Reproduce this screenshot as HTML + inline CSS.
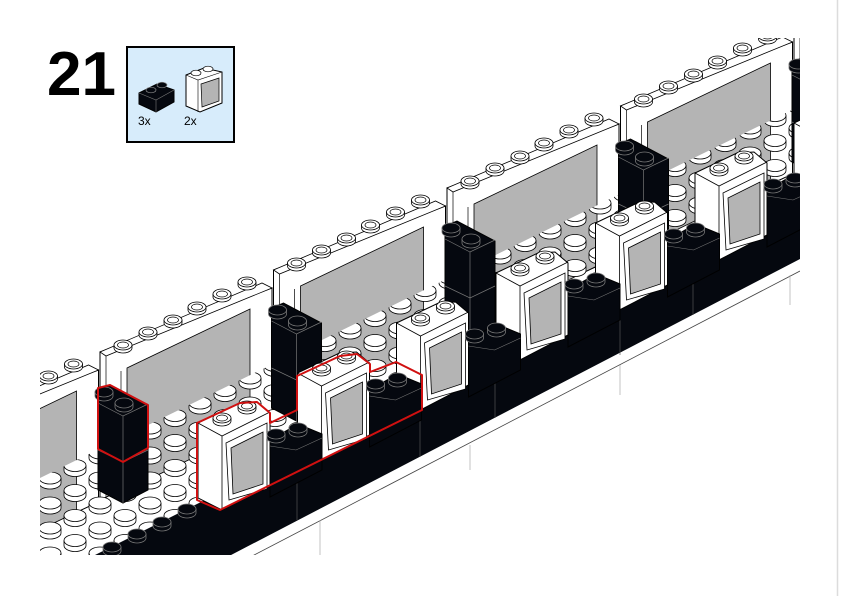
<!DOCTYPE html>
<html><head><meta charset="utf-8"><style>
html,body{margin:0;padding:0;background:#fff;width:842px;height:596px;overflow:hidden;}
body{position:relative;font-family:"Liberation Sans",sans-serif;}
svg{display:block;}
</style></head><body>
<svg width="842" height="596" viewBox="0 0 842 596" xmlns="http://www.w3.org/2000/svg" style="position:absolute;left:0;top:0">
<defs>
  <clipPath id="cp"><rect x="40" y="38" width="760" height="517"/></clipPath>
  <g id="st">
    <path d="M-9,0 L-9,3 A9,5 0 0 0 9,3 L9,0" fill="#fff" stroke="#000" stroke-width="0.8"/>
    <ellipse cx="0" cy="0" rx="9" ry="5" fill="#fff" stroke="#000" stroke-width="0.8"/>
    <ellipse cx="0" cy="0" rx="5.5" ry="3" fill="#fff" stroke="#000" stroke-width="0.7"/>
  </g>
  <g id="fst">
    <path d="M-11,0 L-11,5 A11,6 0 0 0 11,5 L11,0" fill="#fff" stroke="#000" stroke-width="0.8"/>
    <ellipse cx="0" cy="0" rx="11" ry="6" fill="#fff" stroke="#000" stroke-width="0.8"/>
  </g>
  <g id="dst">
    <path d="M-9,0 L-9,4 A9,5 0 0 0 9,4 L9,0" fill="#05080f" stroke="#777" stroke-width="0.8"/>
    <ellipse cx="0" cy="0" rx="9" ry="5" fill="#05080f" stroke="#777" stroke-width="0.8"/>
  </g>
  <pattern id="floor" patternUnits="userSpaceOnUse" width="50" height="25" x="0" y="3">
    <use href="#fst" x="25" y="-12.5"/>
    <use href="#fst" x="0" y="0"/>
    <use href="#fst" x="50" y="0"/>
    <use href="#fst" x="25" y="12.5"/>
    <use href="#fst" x="0" y="25"/>
    <use href="#fst" x="50" y="25"/>
  </pattern>
  <g id="panel">
    <polygon points="100,352 272,288 272,420 100,500" fill="#fff" stroke="#000" stroke-width="1"/>
    <polygon points="100,352 262,283 272,288 106,356" fill="#fff" stroke="#000" stroke-width="0.8"/>
    <polygon points="127,368 250,309 250,430 127,490" fill="#b4b4b4" stroke="#000" stroke-width="0.8"/>
    <line x1="121" y1="371" x2="121" y2="495" stroke="#000" stroke-width="0.7"/>
    <line x1="106" y1="356" x2="106" y2="500" stroke="#000" stroke-width="0.7"/>
    <use href="#st" x="123" y="345"/>
    <use href="#st" x="148" y="332"/>
    <use href="#st" x="173" y="320"/>
    <use href="#st" x="197" y="307"/>
    <use href="#st" x="222" y="294"/>
    <use href="#st" x="247" y="282"/>
  </g>
  <g id="stack">
    <polygon points="98,390 110,385 148,405 148,490 123,503 98,490" fill="#05080f" stroke="#000"/>
    <polyline points="98,403 123,416 148,404" fill="none" stroke="#777" stroke-width="0.7"/>
    <line x1="123" y1="416" x2="123" y2="503" stroke="#777" stroke-width="0.7"/>
    <polyline points="98,450 123,462 148,450" fill="none" stroke="#777" stroke-width="0.7"/>
    <use href="#dst" x="104" y="392"/>
    <use href="#dst" x="124" y="403"/>
  </g>
  <g id="win">
    <polygon points="198,423 240,403 257,402 270,413 270,485 222,510 198,498" fill="#fff" stroke="#000" stroke-width="1"/>
    <polyline points="198,423 222,436 270,412" fill="none" stroke="#000" stroke-width="0.8"/>
    <line x1="222" y1="436" x2="222" y2="510" stroke="#000" stroke-width="0.8"/>
    <polygon points="226,443 267,423 267,489 229,500" fill="#fff" stroke="#000" stroke-width="0.8"/>
    <polygon points="231,448 263,432 263,484 233,494" fill="#b4b4b4" stroke="#000" stroke-width="0.8"/>
    <use href="#st" x="222" y="418"/>
    <use href="#st" x="247" y="406"/>
  </g>
  <g id="blk">
    <polygon points="270,440 298,424 322,434 322,470 270,497" fill="#05080f" stroke="#000"/>
    <polyline points="270,446 296,450 322,438" fill="none" stroke="#777" stroke-width="0.6"/>
    <use href="#dst" x="276" y="434"/>
    <use href="#dst" x="298" y="428"/>
  </g>
</defs>

<line x1="837.5" y1="0" x2="837.5" y2="596" stroke="#dcdcdc" stroke-width="1.5"/>

<text x="47" y="95" font-family="Liberation Sans" font-weight="bold" font-size="62">21</text>
<rect x="127" y="47" width="107" height="95" fill="#d7ecfb" stroke="#000" stroke-width="2"/>
<polygon points="139,93 157,84 174,90 174,102 156,112 139,104" fill="#05080f" stroke="#000"/>
<line x1="156" y1="100" x2="156" y2="112" stroke="#777" stroke-width="0.6"/>
<polyline points="139,93 156,100 174,90" fill="none" stroke="#777" stroke-width="0.6"/>
<ellipse cx="151" cy="90" rx="5" ry="2.8" fill="#05080f" stroke="#888" stroke-width="0.7"/>
<ellipse cx="162" cy="85" rx="5" ry="2.8" fill="#05080f" stroke="#888" stroke-width="0.7"/>
<polygon points="186,75 204,68 222,72 222,103 200,112 186,106" fill="#fff" stroke="#000"/>
<line x1="198" y1="80" x2="198" y2="112" stroke="#000" stroke-width="0.6"/>
<polyline points="186,75 198,80 222,72" fill="none" stroke="#000" stroke-width="0.6"/>
<polygon points="201,84 219,78 219,101 202,107" fill="#b4b4b4" stroke="#000" stroke-width="0.7"/>
<ellipse cx="196" cy="73" rx="5" ry="2.8" fill="#fff" stroke="#000" stroke-width="0.7"/>
<ellipse cx="208" cy="69" rx="5" ry="2.8" fill="#fff" stroke="#000" stroke-width="0.7"/>
<text x="138" y="125" font-size="12" font-family="Liberation Sans">3x</text>
<text x="184" y="125" font-size="12" font-family="Liberation Sans">2x</text>

<g clip-path="url(#cp)">
  <use href="#panel" transform="translate(694,-328)"/>
  <use href="#panel" transform="translate(520.5,-246)"/>
  <use href="#panel" transform="translate(347,-164)"/>
  <use href="#panel" transform="translate(173.5,-82)"/>
  <use href="#panel"/>
  <use href="#panel" transform="translate(-173.5,82)"/>
  <polygon points="40,478 800,106 800,210 40,590" fill="url(#floor)"/>
  <use href="#stack" transform="translate(694,-328)"/>
  <use href="#stack" transform="translate(520.5,-246)"/>
  <use href="#stack" transform="translate(347,-164)"/>
  <use href="#stack" transform="translate(173.5,-82)"/>
  <use href="#stack"/>
  <polygon points="85,560 205,500 800,202 800,259 85,631" fill="#05080f"/>
  <line x1="85" y1="643" x2="800" y2="271" stroke="#444" stroke-width="0.8"/>
  <g stroke="#555" stroke-width="0.7">
    <line x1="297" y1="470" x2="297" y2="520"/>
    <line x1="495" y1="371" x2="495" y2="418"/>
    <line x1="693" y1="272" x2="693" y2="315"/>
    <line x1="620" y1="310" x2="620" y2="355"/>
    <line x1="420" y1="410" x2="420" y2="457"/>
  </g>
  <g stroke="#aaa" stroke-width="0.7">
    <line x1="320" y1="520" x2="320" y2="560"/>
    <line x1="470" y1="445" x2="470" y2="470"/>
    <line x1="620" y1="365" x2="620" y2="395"/>
    <line x1="790" y1="275" x2="790" y2="305"/>
  </g>
  <use href="#dst" x="112" y="547"/>
  <use href="#dst" x="137" y="534"/>
  <use href="#dst" x="162" y="522"/>
  <use href="#dst" x="187" y="509"/>
  <use href="#win" transform="translate(596,-300)"/>
  <use href="#blk" transform="translate(596,-300)"/>
  <use href="#win" transform="translate(497,-250)"/>
  <use href="#blk" transform="translate(497,-250)"/>
  <use href="#win" transform="translate(397.5,-200)"/>
  <use href="#blk" transform="translate(397.5,-200)"/>
  <use href="#win" transform="translate(298,-150)"/>
  <use href="#blk" transform="translate(298,-150)"/>
  <use href="#win" transform="translate(198.5,-100)"/>
  <use href="#blk" transform="translate(198.5,-100)"/>
  <use href="#win" transform="translate(99.5,-50)"/>
  <use href="#blk" transform="translate(99.5,-50)"/>
  <use href="#win"/>
  <use href="#blk"/>
  <path d="M197,423 L240,403 L257,402 L270,413 L270,423 L297,410 L297,376 L340,356 L357,354 L370,364 L370,372 L396,362 L422,375 L422,410 L220,510 L197,500 Z" fill="none" stroke="#d01010" stroke-width="2" stroke-linejoin="round"/>
  <path d="M98,388 L110,385 L148,405 L148,448 L123,462 L98,449 Z" fill="none" stroke="#d01010" stroke-width="2" stroke-linejoin="round"/>
</g>
</svg>
</body></html>
